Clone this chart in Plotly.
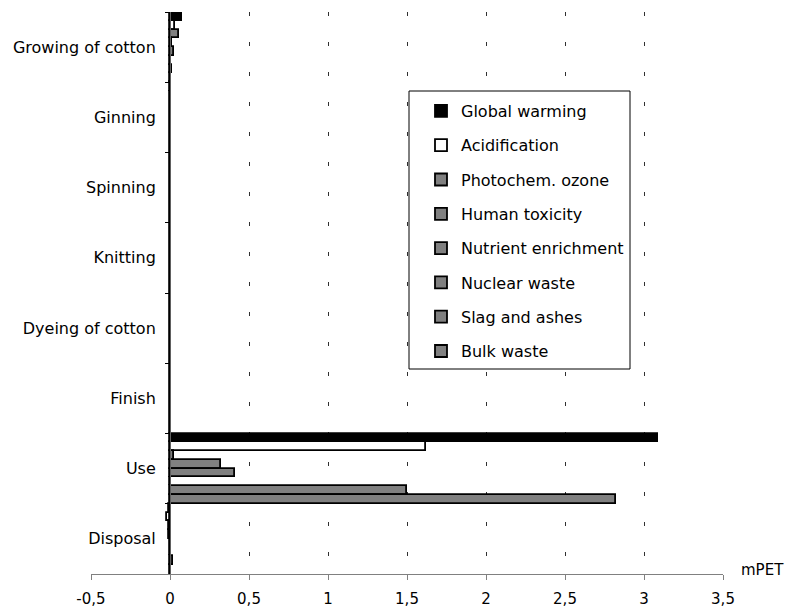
import plotly.graph_objects as go

categories = ["Growing of cotton", "Ginning", "Spinning", "Knitting",
              "Dyeing of cotton", "Finish", "Use", "Disposal"]

series_names = ["Global warming", "Acidification", "Photochem. ozone", "Human toxicity",
                "Nutrient enrichment", "Nuclear waste", "Slag and ashes", "Bulk waste"]

global_warming = [0.075, 0.004, 0, 0, 0, 0, 3.09, -0.006]
acidification = [0.03, 0.002, 0, 0, 0, 0, 1.62, -0.02]
photochem_ozone = [0.06, 0, 0, 0, 0, 0, 0.024, -0.005]
human_toxicity = [0.015, 0, 0, 0, 0, 0, 0.32, -0.004]
nutrient_enrichment = [0.025, 0, 0, 0, 0, 0, 0.41, 0.002]
nuclear_waste = [0.005, 0, 0, 0, 0, 0, 0.003, 0]
slag_and_ashes = [0.015, 0, 0, 0, 0, 0, 1.50, 0.02]
bulk_waste = [0.008, 0, 0, 0, 0, 0, 2.82, 0.004]

series_values = [global_warming, acidification, photochem_ozone, human_toxicity,
                 nutrient_enrichment, nuclear_waste, slag_and_ashes, bulk_waste]
series_colors = ["#000000", "#ffffff", "#808080", "#808080",
                 "#808080", "#808080", "#808080", "#808080"]

x_tick_vals = [-0.5, 0, 0.5, 1, 1.5, 2, 2.5, 3, 3.5]
x_tick_text = ["-0,5", "0", "0,5", "1", "1,5", "2", "2,5", "3", "3,5"]

FONT = "DejaVu Sans"

fig = go.Figure()
for name, vals, col in zip(series_names, series_values, series_colors):
    fig.add_trace(go.Bar(
        y=categories, x=vals, name=name, orientation="h",
        marker=dict(color=col, line=dict(color="#000000", width=1.8)),
        legendgroup=name,
    ))

# page has an 8px body margin; figure is placed at (8, 8)
OFF = 8
W, H = 802 - OFF, 613 - OFF
PL, PR, PT, PB = 91, 723, 12, 574   # plot area in page pixels
L, T = PL - OFF, PT - OFF
R, B = 802 - PR, 613 - PB
pw, ph = PR - PL, PB - PT

def px(x):
    return (x - PL) / pw

def py(y):
    return 1 - (y - PT) / ph

fig.update_layout(
    width=W, height=H,
    margin=dict(l=L, r=R, t=T, b=B),
    paper_bgcolor="white", plot_bgcolor="white",
    barmode="group", bargap=0, bargroupgap=0,
    font=dict(family=FONT, size=16, color="#000000"),
    xaxis=dict(
        range=[-0.5, 3.5], tickvals=x_tick_vals, ticktext=x_tick_text,
        showgrid=True, gridcolor="#303030", gridwidth=1, griddash="4px,26px",
        zeroline=False, showline=True, linecolor="#808080", linewidth=1,
        ticks="outside", ticklen=5, tickcolor="#808080",
        tickfont=dict(family=FONT, size=15, color="#000000"),
        ticklabelstandoff=6, automargin=False,
    ),
    yaxis=dict(
        type="category", autorange="reversed",
        anchor="free", position=0.125,
        showline=True, linecolor="#606060", linewidth=1,
        ticks="outside", tickson="boundaries", ticklen=5, tickcolor="#000000",
        showgrid=False, zeroline=False,
        tickfont=dict(family=FONT, size=16, color="#000000"),
        ticklabelstandoff=11, automargin=False,
    ),
    legend=dict(
        x=px(421), y=py(94), xanchor="left", yanchor="top",
        bgcolor="rgba(0,0,0,0)", borderwidth=0,
        font=dict(family=FONT, size=16, color="#000000"),
        tracegroupgap=10.5, traceorder="grouped",
    ),
    showlegend=True,
    shapes=[dict(
        type="rect", xref="paper", yref="paper",
        x0=px(409), x1=px(630), y0=py(369), y1=py(91),
        line=dict(color="#000000", width=1), fillcolor="white", layer="above",
    )],
    annotations=[dict(
        text="mPET", xref="paper", yref="paper",
        x=px(762), y=py(570), xanchor="center", yanchor="middle",
        showarrow=False, font=dict(family=FONT, size=15, color="#000000"),
    )],
)

fig.write_html("out.html")
